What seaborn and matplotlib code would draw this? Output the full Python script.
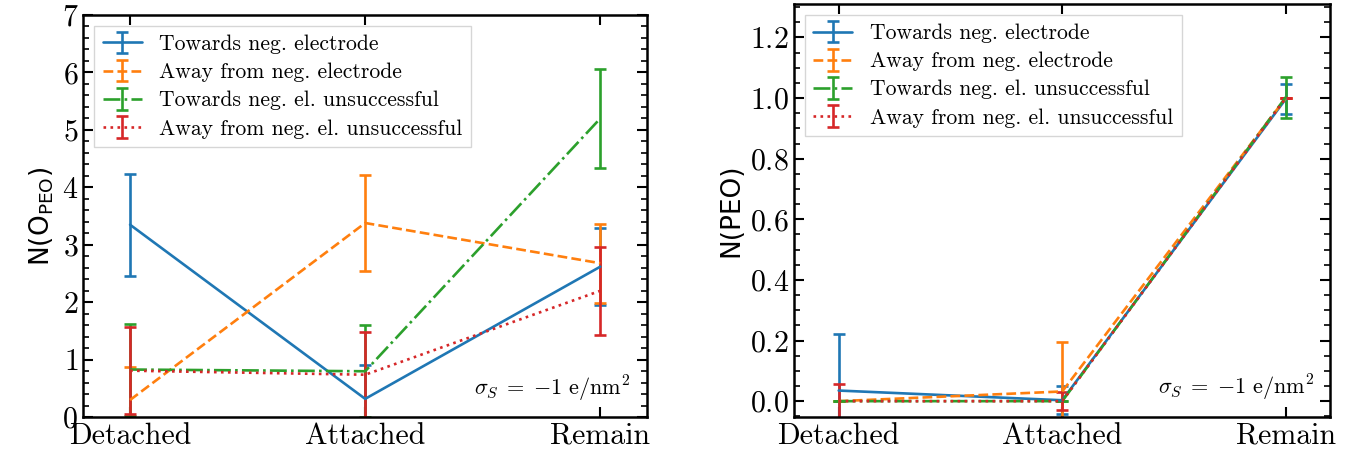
import numpy as np
import matplotlib
matplotlib.use('Agg')
import matplotlib.pyplot as plt
from matplotlib.ticker import AutoMinorLocator, MultipleLocator
import seaborn as sns

# states of the polymer chain
states = ['Detached', 'Attached', 'Remain']
labels = ['Towards neg. electrode', 'Away from neg. electrode',
          'Towards neg. el. unsuccessful', 'Away from neg. el. unsuccessful']

# N(O_PEO), left panel
opeo_towards = [3.35, 0.32, 2.62]
opeo_towards_err = [0.89, 0.59, 0.67]
opeo_away = [0.30, 3.38, 2.68]
opeo_away_err = [0.57, 0.84, 0.69]
opeo_towards_uns = [0.83, 0.80, 5.20]
opeo_towards_uns_err = [0.80, 0.80, 0.86]
opeo_away_uns = [0.81, 0.74, 2.20]
opeo_away_uns_err = [0.76, 0.75, 0.77]

# N(PEO), right panel
peo_towards = [0.035, 0.003, 0.997]
peo_towards_err = [0.187, 0.047, 0.048]
peo_away = [0.0, 0.032, 1.0]
peo_away_err = [0.0, 0.163, 0.0]
peo_towards_uns = [0.0, 0.0, 1.003]
peo_towards_uns_err = [0.0, 0.0, 0.068]
peo_away_uns = [0.0, 0.0, 1.0]
peo_away_uns_err = [0.056, 0.03, 0.0]

sns.set_style('ticks')
plt.rcParams['font.family'] = 'serif'
plt.rcParams['font.serif'] = ['cmr10']
plt.rcParams['mathtext.fontset'] = 'cm'
plt.rcParams['axes.formatter.use_mathtext'] = True
plt.rcParams['axes.unicode_minus'] = True
plt.rcParams['axes.edgecolor'] = 'black'
plt.rcParams['xtick.color'] = 'black'
plt.rcParams['ytick.color'] = 'black'
plt.rcParams['text.color'] = 'black'
plt.rcParams['axes.labelcolor'] = 'black'

colors = sns.color_palette('tab10')
styles = ['-', '--', '-.', ':']

fig = plt.figure(figsize=(13.48, 4.54), dpi=100)
ax1 = fig.add_axes([0.0616, 0.081, 0.4186, 0.886])
ax2 = fig.add_axes([0.589, 0.081, 0.398, 0.910])

x = np.arange(len(states))
left_data = [(opeo_towards, opeo_towards_err), (opeo_away, opeo_away_err),
             (opeo_towards_uns, opeo_towards_uns_err), (opeo_away_uns, opeo_away_uns_err)]
right_data = [(peo_towards, peo_towards_err), (peo_away, peo_away_err),
              (peo_towards_uns, peo_towards_uns_err), (peo_away_uns, peo_away_uns_err)]

for ax, data in [(ax1, left_data), (ax2, right_data)]:
    for i, (vals, errs) in enumerate(data):
        ax.errorbar(x, vals, yerr=errs, color=colors[i], ls=styles[i], lw=1.9,
                    capsize=4, capthick=1.9, elinewidth=1.9, label=labels[i])
    ax.set_xticks(x)
    ax.set_xticklabels(states)
    ax.set_xlim(-0.2, 2.2)
    ax.tick_params(which='both', direction='in', top=True, right=True,
                   labelsize=21.5)
    ax.tick_params(which='major', length=7, width=1.5)
    ax.tick_params(which='minor', length=4.5, width=1.2)
    ax.tick_params(axis='x', which='minor', top=False, bottom=False)
    for s in ax.spines.values():
        s.set_linewidth(1.8)
    ax.legend(loc='upper left', fontsize=15.6, fancybox=False, edgecolor='0.8',
              framealpha=0.8, labelspacing=0.4, handlelength=1.8)
    ax.text(0.97, 0.055, r'$\sigma_S\;=\;{-1}\ \mathrm{e/nm}^2$', transform=ax.transAxes,
            ha='right', va='baseline', fontsize=16)

ax1.set_ylim(0, 7)
ax1.yaxis.set_major_locator(MultipleLocator(1))
ax1.yaxis.set_minor_locator(AutoMinorLocator(5))
ax1.set_ylabel(r'N(O$_{\mathrm{PEO}}$)', fontsize=19, family='DejaVu Sans',
               math_fontfamily='dejavusans')

ax2.set_ylim(-0.053, 1.31)
ax2.yaxis.set_major_locator(MultipleLocator(0.2))
ax2.yaxis.set_minor_locator(AutoMinorLocator(4))
ax2.set_ylabel('N(PEO)', fontsize=19, family='DejaVu Sans')

fig.savefig('out.png', dpi=100)
